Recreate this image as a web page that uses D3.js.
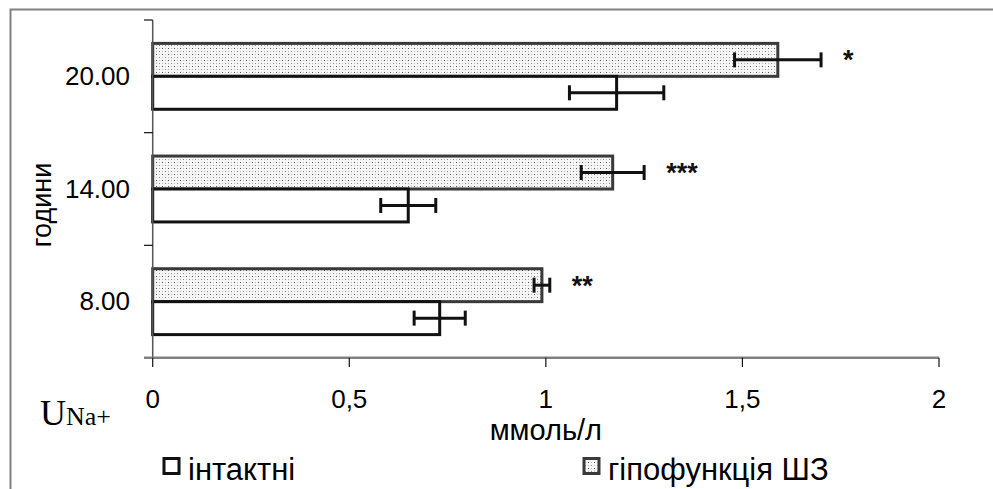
<!DOCTYPE html>
<html>
<head>
<meta charset="utf-8">
<script src="https://cdn.jsdelivr.net/npm/d3@7"></script>
<style>
  html, body { margin: 0; padding: 0; background: #fff; }
  svg { display: block; }
</style>
</head>
<body>
<svg id="chart" width="993" height="489"></svg>
<script>
// Hours of sampling (top to bottom)
const hours = ["20.00", "14.00", "8.00"];
// Sodium excretion, mmol/l
const intactValues = [1.18, 0.65, 0.73];
const intactErrors = [0.12, 0.07, 0.065];
const hypoValues = [1.59, 1.17, 0.99];
const hypoErrors = [0.11, 0.08, 0.02];
const significance = ["*", "***", "**"];
const xTicks = [0, 0.5, 1, 1.5, 2];
const xTickLabels = ["0", "0,5", "1", "1,5", "2"];
const seriesNames = ["інтактні", "гіпофункція ШЗ"];

const SANS = "Arial, 'Liberation Sans', sans-serif";
const SERIF = "'Times New Roman', 'Liberation Serif', serif";

const svg = d3.select("#chart");

// dotted fill for the hypofunction series
const defs = svg.append("defs");
const pat = defs.append("pattern")
  .attr("id", "dots").attr("patternUnits", "userSpaceOnUse")
  .attr("width", 6).attr("height", 6);
pat.append("rect").attr("width", 6).attr("height", 6).attr("fill", "#f6f6f6");
pat.append("rect").attr("x", 0).attr("y", 0).attr("width", 1).attr("height", 1).attr("fill", "#555");
pat.append("rect").attr("x", 3).attr("y", 3).attr("width", 1).attr("height", 1).attr("fill", "#8a8a8a");
pat.append("rect").attr("x", 3).attr("y", 0).attr("width", 1).attr("height", 1).attr("fill", "#bbb");
pat.append("rect").attr("x", 0).attr("y", 3).attr("width", 1).attr("height", 1).attr("fill", "#bbb");

// outer frame
svg.append("path")
  .attr("d", "M10.5,489 V9.5 H993")
  .attr("fill", "none").attr("stroke", "#808080").attr("stroke-width", 2);

const x = d3.scaleLinear().domain([0, 2]).range([152.7, 939]);
const y = d3.scaleBand().domain(hours).range([20, 358]);
const sub = d3.scaleBand().domain(["hypo", "intact"]).range([0, y.bandwidth()]).paddingInner(0).paddingOuter(0.71);

const g = svg.append("g");

// bars
hours.forEach((h, i) => {
  const y0 = y(h);
  // hypofunction bar (upper)
  g.append("rect")
    .attr("x", x(0)).attr("y", y0 + sub("hypo"))
    .attr("width", x(hypoValues[i]) - x(0)).attr("height", sub.bandwidth())
    .attr("fill", "url(#dots)").attr("stroke", "#3a3a3a").attr("stroke-width", 3);
  // intact bar (lower)
  g.append("rect")
    .attr("x", x(0)).attr("y", y0 + sub("intact"))
    .attr("width", x(intactValues[i]) - x(0)).attr("height", sub.bandwidth())
    .attr("fill", "#fff").attr("stroke", "#111").attr("stroke-width", 3);
});

// error bars
function errorBar(v, e, cy) {
  const eb = g.append("g").attr("stroke", "#111").attr("stroke-width", 3);
  eb.append("line").attr("x1", x(v - e)).attr("x2", x(v + e)).attr("y1", cy).attr("y2", cy);
  [v - e, v + e].forEach(t => {
    eb.append("line").attr("x1", x(t)).attr("x2", x(t)).attr("y1", cy - 7.5).attr("y2", cy + 7.5);
  });
}
hours.forEach((h, i) => {
  errorBar(hypoValues[i], hypoErrors[i], y(h) + sub("hypo") + sub.bandwidth() / 2);
  errorBar(intactValues[i], intactErrors[i], y(h) + sub("intact") + sub.bandwidth() / 2);
});

// significance marks
hours.forEach((h, i) => {
  g.append("text")
    .attr("x", x(hypoValues[i] + hypoErrors[i]) + 22)
    .attr("y", y(h) + sub("hypo") + 26)
    .attr("font-family", SANS)
    .attr("font-size", 27).attr("font-weight", "bold")
    .attr("fill", "#111")
    .text(significance[i]);
});

// y axis
const yAxis = svg.append("g");
yAxis.append("line").attr("x1", x(0)).attr("x2", x(0)).attr("y1", 20).attr("y2", 358)
  .attr("stroke", "#555").attr("stroke-width", 1.5);
const bounds = hours.map(h => y(h)).concat([y.range()[1]]);
bounds.forEach(b => {
  yAxis.append("line").attr("x1", 144).attr("x2", x(0)).attr("y1", b).attr("y2", b)
    .attr("stroke", "#111").attr("stroke-width", 1.2);
});
hours.forEach(h => {
  yAxis.append("text")
    .attr("x", 130).attr("y", y(h) + y.bandwidth() / 2 + 8.5)
    .attr("text-anchor", "end")
    .attr("font-family", SANS)
    .attr("font-size", 26).attr("fill", "#000")
    .text(h);
});

// x axis
const xAxis = svg.append("g");
xAxis.append("line").attr("x1", 144).attr("x2", x(2)).attr("y1", 357.7).attr("y2", 357.7)
  .attr("stroke", "#808080").attr("stroke-width", 2.5);
xTicks.forEach((t, i) => {
  xAxis.append("line").attr("x1", x(t)).attr("x2", x(t)).attr("y1", 357.7).attr("y2", 367)
    .attr("stroke", "#111").attr("stroke-width", 1.2);
  xAxis.append("text")
    .attr("x", x(t)).attr("y", 408)
    .attr("text-anchor", "middle")
    .attr("font-family", SANS)
    .attr("font-size", 26).attr("fill", "#000")
    .text(xTickLabels[i]);
});

// axis titles
svg.append("text")
  .attr("x", x(1)).attr("y", 440)
  .attr("text-anchor", "middle")
  .attr("font-family", SANS)
  .attr("font-size", 29).attr("fill", "#000")
  .text("ммоль/л");

svg.append("text")
  .attr("transform", "translate(51,205) rotate(-90)")
  .attr("text-anchor", "middle")
  .attr("font-family", SANS)
  .attr("font-size", 27).attr("fill", "#000")
  .text("години");

const uLabel = svg.append("text")
  .attr("x", 40).attr("y", 425)
  .attr("font-family", SERIF)
  .attr("fill", "#000");
uLabel.append("tspan").attr("font-size", 36).text("U");
uLabel.append("tspan").attr("font-size", 26).text("Na+");

// legend
const legend = svg.append("g");
const legendItems = [
  { name: seriesNames[0], x: 164, fill: "#fff", stroke: "#111" },
  { name: seriesNames[1], x: 584, fill: "url(#dots)", stroke: "#3a3a3a" }
];
legendItems.forEach(d => {
  legend.append("rect")
    .attr("x", d.x).attr("y", 458.5).attr("width", 15).attr("height", 15)
    .attr("fill", d.fill).attr("stroke", d.stroke).attr("stroke-width", 3);
  legend.append("text")
    .attr("x", d.x + 24).attr("y", 480)
    .attr("font-family", SANS)
    .attr("font-size", 31).attr("fill", "#000")
    .text(d.name);
});
</script>
</body>
</html>
